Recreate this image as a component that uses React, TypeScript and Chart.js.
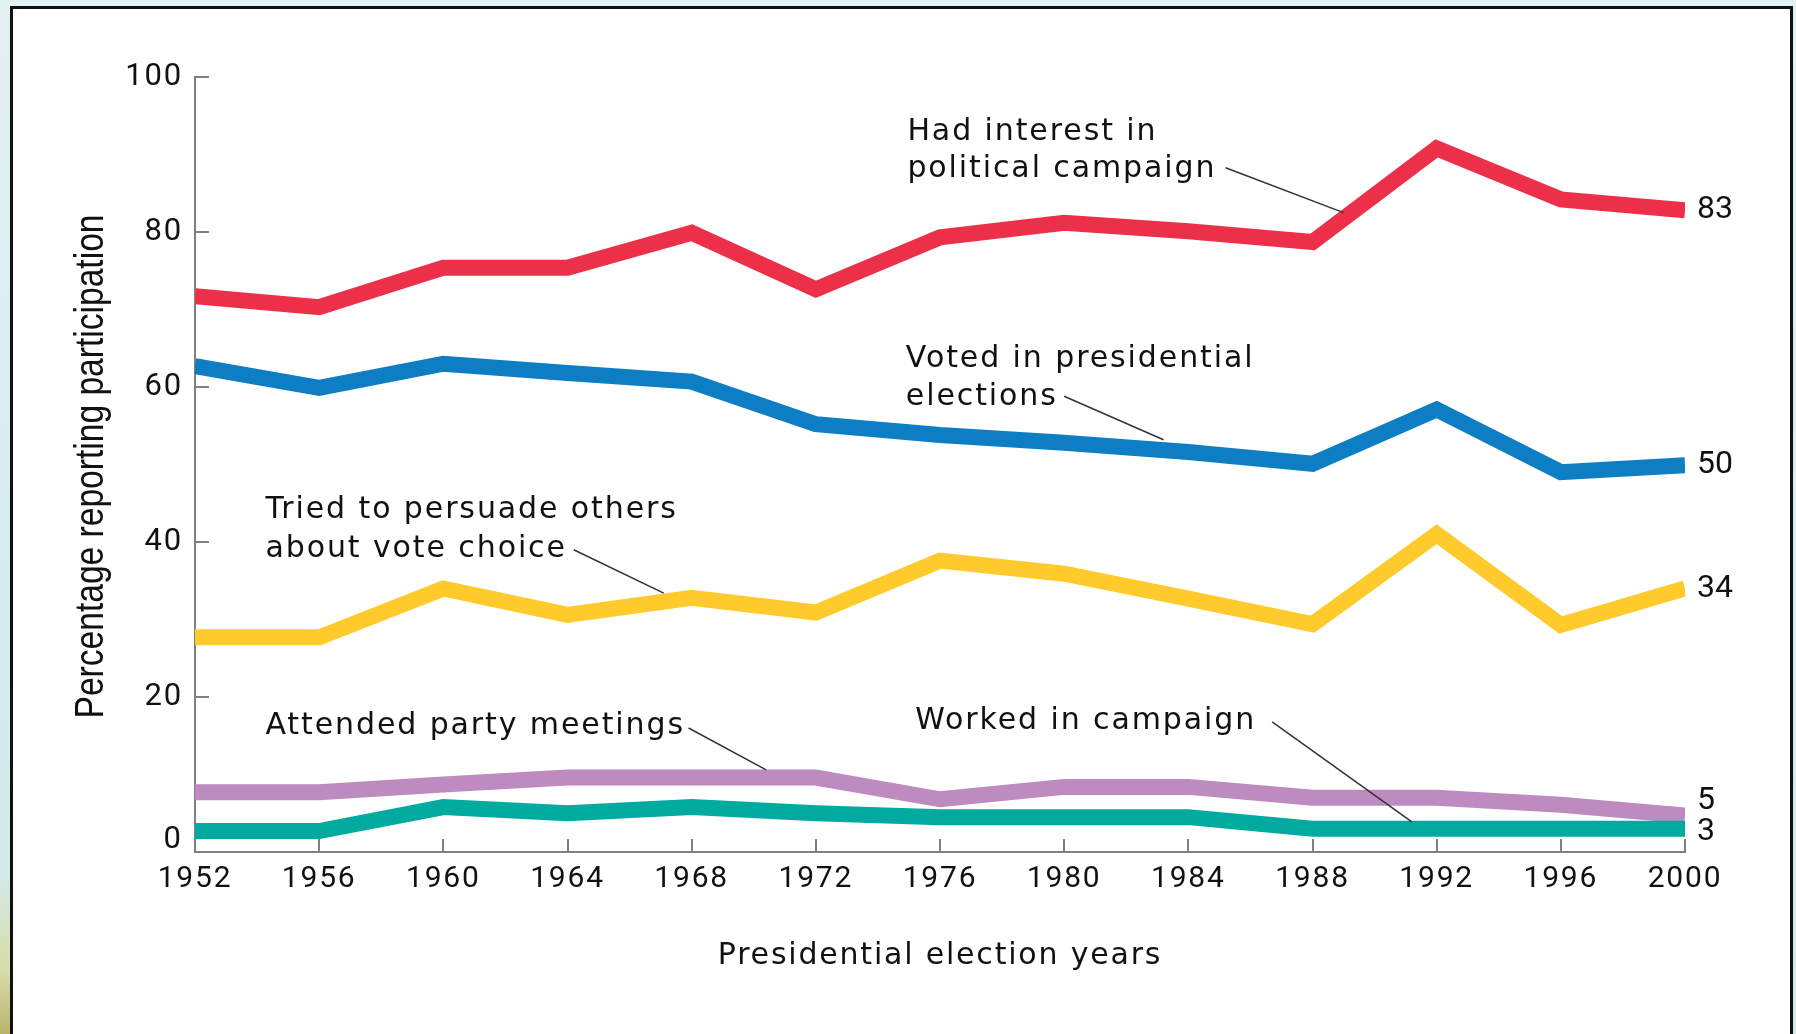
import React, { useEffect, useRef } from 'react';
import { Chart, registerables } from 'chart.js';

Chart.register(...registerables);

// ---- data ----
const years = [1952, 1956, 1960, 1964, 1968, 1972, 1976, 1980, 1984, 1988, 1992, 1996, 2000];
const interest = [71.7, 70.3, 75.4, 75.4, 79.9, 72.6, 79.3, 81.2, 80.1, 78.7, 90.8, 84.2, 82.8];
const voted = [62.7, 59.9, 63.0, 61.8, 60.7, 55.2, 53.8, 52.8, 51.6, 50.1, 57.1, 49.0, 49.9];
const persuade = [27.7, 27.7, 34.0, 30.6, 32.8, 30.9, 37.6, 35.9, 32.7, 29.4, 41.0, 29.3, 34.0];
const attended = [7.7, 7.7, 8.7, 9.6, 9.6, 9.6, 6.8, 8.4, 8.4, 7.0, 7.0, 6.1, 4.7];
const worked = [2.7, 2.7, 5.8, 5.0, 5.8, 5.0, 4.5, 4.5, 4.5, 3.0, 3.0, 3.0, 3.0];
const endLabels = ['3', '5', '34', '50', '83'];
const yTickValues = [0, 20, 40, 60, 80, 100];
const xTitle = 'Presidential election years';
const yTitle = 'Percentage reporting participation';

// ---- styling (kept separate from data) ----
const seriesColors = ['#00AA9E', '#BD8BBF', '#FFCA2B', '#0D7EC4', '#EC3049'];
const endLabelShift = [3, -15, 0, 0, 0];

const annotations = [
  { lines: ['Had interest in', 'political campaign'], x: 1974.95, y: [91.9, 87.1], leader: [[1985.2, 88.3], [1989.0, 82.5]] },
  { lines: ['Voted in presidential', 'elections'], x: 1974.9, y: [62.6, 57.7], leader: [[1980.0, 58.8], [1983.2, 53.2]] },
  { lines: ['Tried to persuade others', 'about vote choice'], x: 1954.27, y: [43.1, 38.1], leader: [[1964.2, 39.0], [1967.1, 33.4]] },
  { lines: ['Attended party meetings'], x: 1954.27, y: [15.2], leader: [[1967.9, 16.0], [1970.4, 10.6]] },
  { lines: ['Worked in campaign'], x: 1975.2, y: [15.9], leader: [[1986.7, 16.8], [1991.2, 3.9]] },
];

const W = 1796;
const H = 1034;

const decorPlugin = {
  id: 'decor',
  beforeDraw(chart: any) {
    (chart.ctx as any).letterSpacing = '1.8px';
  },
  beforeDatasetsDraw(chart: any) {
    const { ctx, scales } = chart;
    const x = scales.x;
    const y = scales.y;
    (ctx as any).letterSpacing = '0px';
    ctx.save();
    ctx.strokeStyle = '#808080';
    ctx.lineWidth = 2;
    yTickValues.forEach((v) => {
      if (v === 0) return;
      const py = Math.round(y.getPixelForValue(v));
      ctx.beginPath();
      ctx.moveTo(x.left, py);
      ctx.lineTo(x.left + 14, py);
      ctx.stroke();
    });
    years.forEach((yr) => {
      const px = Math.round(x.getPixelForValue(yr));
      ctx.beginPath();
      ctx.moveTo(px, y.bottom);
      ctx.lineTo(px, y.bottom - 13);
      ctx.stroke();
    });
    ctx.fillStyle = '#111';
    // zero label (set slightly above the axis line, as in the original)
    ctx.font = '31px Roboto';
    ctx.textAlign = 'right';
    ctx.textBaseline = 'middle';
    ctx.fillText('0', x.left - 14, y.getPixelForValue(0) - 12);
    // y axis title: condensed, rotated
    ctx.save();
    ctx.translate(92, (y.top + y.bottom) / 2 + 2);
    ctx.rotate(-Math.PI / 2);
    ctx.font = '40px "Liberation Sans", Arial, sans-serif';
    ctx.textAlign = 'center';
    ctx.textBaseline = 'middle';
    ctx.fillText(yTitle, 0, 0, 504);
    ctx.restore();
    ctx.restore();
  },
  afterDatasetsDraw(chart: any) {
    const { ctx, scales } = chart;
    const x = scales.x;
    const y = scales.y;
    ctx.save();
    // end value labels
    ctx.fillStyle = '#111';
    ctx.font = '32px Roboto';
    ctx.textAlign = 'left';
    ctx.textBaseline = 'middle';
    chart.data.datasets.forEach((ds: any, i: number) => {
      const last = ds.data[ds.data.length - 1];
      ctx.fillText(endLabels[i], x.getPixelForValue(last.x) + 12, y.getPixelForValue(last.y) + endLabelShift[i]);
    });
    // annotations
    ctx.font = '30px "DejaVu Sans"';
    (ctx as any).letterSpacing = '1.9px';
    ctx.textBaseline = 'alphabetic';
    annotations.forEach((a) => {
      a.lines.forEach((t, k) => {
        ctx.fillText(t, x.getPixelForValue(a.x), y.getPixelForValue(a.y[k]));
      });
      ctx.strokeStyle = '#333';
      ctx.lineWidth = 1.5;
      ctx.beginPath();
      ctx.moveTo(x.getPixelForValue(a.leader[0][0]), y.getPixelForValue(a.leader[0][1]));
      ctx.lineTo(x.getPixelForValue(a.leader[1][0]), y.getPixelForValue(a.leader[1][1]));
      ctx.stroke();
    });
    (ctx as any).letterSpacing = '0px';
    ctx.restore();
  },
};

export default function App() {
  const ref = useRef<HTMLCanvasElement | null>(null);

  useEffect(() => {
    if (!ref.current) return;
    const series = [worked, attended, persuade, voted, interest];
    const chart = new Chart(ref.current, {
      type: 'line',
      data: {
        datasets: series.map((vals, i) => ({
          label: endLabels[i],
          data: years.map((yr, j) => ({ x: yr, y: vals[j] })),
          borderColor: seriesColors[i],
          backgroundColor: seriesColors[i],
          borderWidth: 16,
          borderJoinStyle: 'miter',
          borderCapStyle: 'butt',
          pointRadius: 0,
          tension: 0,
          fill: false,
        })),
      },
      options: {
        responsive: false,
        animation: false,
        devicePixelRatio: 1,
        layout: { padding: { left: 0, right: 111, top: 77, bottom: 0 } },
        plugins: { legend: { display: false }, tooltip: { enabled: false } },
        scales: {
          x: {
            type: 'linear',
            min: 1952,
            max: 2000,
            afterBuildTicks: (s: any) => {
              s.ticks = years.map((v) => ({ value: v }));
            },
            afterFit: (s: any) => {
              s.height = 182;
            },
            grid: { display: false, drawTicks: false },
            border: { display: true, color: '#808080', width: 2 },
            ticks: {
              color: '#111',
              font: { family: 'Roboto', size: 30 },
              padding: 9,
              maxRotation: 0,
              autoSkip: false,
              callback: (v: any) => String(v),
            },
            title: {
              display: true,
              text: xTitle,
              color: '#111',
              font: { family: '"DejaVu Sans"', size: 30 },
              padding: { top: 0, bottom: 60 },
            },
          },
          y: {
            type: 'linear',
            min: 0,
            max: 100,
            afterBuildTicks: (s: any) => {
              s.ticks = yTickValues.map((v) => ({ value: v }));
            },
            afterFit: (s: any) => {
              s.width = 195;
            },
            grid: { display: false, drawTicks: false },
            border: { display: true, color: '#808080', width: 2 },
            ticks: {
              color: '#111',
              font: { family: 'Roboto', size: 31 },
              padding: 12,
              callback: (v: any) => (v === 0 ? '' : String(v)),
            },
            title: { display: false },
          },
        },
      },
      plugins: [decorPlugin],
    } as any);
    return () => chart.destroy();
  }, []);

  return (
    <div
      style={{
        position: 'fixed',
        left: 0,
        top: 0,
        width: W,
        height: H,
        overflow: 'hidden',
        background: 'linear-gradient(180deg, #e2f1f1 0%, #d6ecee 60%, #d3e9e6 100%)',
      }}
    >
      <div
        style={{
          position: 'absolute',
          left: 0,
          top: 880,
          width: 10,
          height: 154,
          background: 'linear-gradient(180deg, #d3e9e6 0%, #d8dca8 60%, #b9b46a 100%)',
        }}
      />
      <div
        style={{
          position: 'absolute',
          left: 10,
          top: 6,
          width: 1783,
          height: 1100,
          boxSizing: 'border-box',
          background: '#fff',
          border: '3px solid #111',
        }}
      />
      <canvas
        ref={ref}
        width={W}
        height={H}
        style={{ position: 'absolute', left: 0, top: 0, width: W, height: H }}
      />
    </div>
  );
}
